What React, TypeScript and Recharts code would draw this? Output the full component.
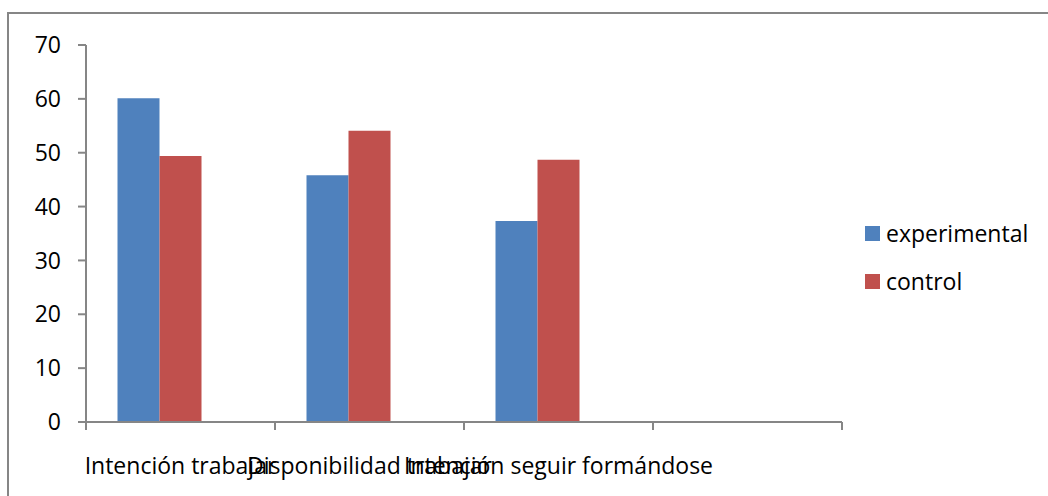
import { BarChart, Bar, XAxis, YAxis } from "recharts"

const categories = ["Intención trabajar", "Disponibilidad trabajar", "Intención seguir formándose", ""]
const experimental = [60.1, 45.8, 37.3, null]
const control = [49.4, 54.1, 48.7, null]
const yTicks = [0, 10, 20, 30, 40, 50, 60, 70]

const seriesLabels = [
  { name: "experimental", color: "#4F81BD" },
  { name: "control", color: "#C0504D" }
]

const data = categories.map((name, i) => ({
  name,
  experimental: experimental[i],
  control: control[i],
  blank: null
}))

const font = "'Open Sans', sans-serif"
const axisColor = "#868686"

// category tick: Excel style marks sit between categories, label in the middle
function CategoryTick(props: any) {
  const { x, y, payload, width, visibleTicksCount, index } = props
  const half = width / visibleTicksCount / 2
  const last = index === visibleTicksCount - 1
  return (
    <g>
      <line x1={x - half} x2={x - half} y1={y} y2={y + 8} stroke={axisColor} strokeWidth={2} />
      {last && <line x1={x + half} x2={x + half} y1={y} y2={y + 8} stroke={axisColor} strokeWidth={2} />}
      <text x={x} y={y + 44} dy="0.35em" textAnchor="middle" fill="#000" fontSize={23} fontFamily={font}>
        {payload.value}
      </text>
    </g>
  )
}

function LegendBox() {
  return (
    <div style={{ position: "absolute", left: 865, top: 209, fontFamily: font, fontSize: 23, color: "#000" }}>
      {seriesLabels.map((s) => (
        <div key={s.name} style={{ display: "flex", alignItems: "center", height: 48 }}>
          <span style={{ width: 15, height: 15, background: s.color, marginRight: 6 }} />
          <span>{s.name}</span>
        </div>
      ))}
    </div>
  )
}

export default function App() {
  return (
    <div style={{ position: "absolute", left: 0, top: 0, width: 1048, height: 496, background: "#fff", overflow: "hidden" }}>
      <div
        style={{
          position: "absolute",
          left: 7,
          top: 12,
          width: 1048,
          height: 500,
          border: `2px solid ${axisColor}`,
          boxSizing: "border-box"
        }}
      />
      <BarChart
        width={1048}
        height={496}
        data={data}
        margin={{ top: 45, right: 206, bottom: 24, left: 0 }}
        barCategoryGap={31.5}
        barGap={0}
        style={{ position: "absolute", left: 0, top: 0 }}
      >
        <XAxis
          dataKey="name"
          interval={0}
          height={50}
          stroke={axisColor}
          strokeWidth={2}
          tickLine={false}
          tickSize={0}
          tickMargin={0}
          tick={<CategoryTick />}
        />
        <YAxis
          domain={[0, 70]}
          ticks={yTicks}
          width={86}
          stroke={axisColor}
          strokeWidth={2}
          tickSize={8}
          tickMargin={17}
          tick={{ fill: "#000", fontSize: 23, fontFamily: font }}
        />
        <Bar dataKey="experimental" fill="#4F81BD" isAnimationActive={false} />
        <Bar dataKey="control" fill="#C0504D" isAnimationActive={false} />
        <Bar dataKey="blank" fill="#9BBB59" legendType="none" isAnimationActive={false} />
      </BarChart>
      <LegendBox />
    </div>
  )
}
